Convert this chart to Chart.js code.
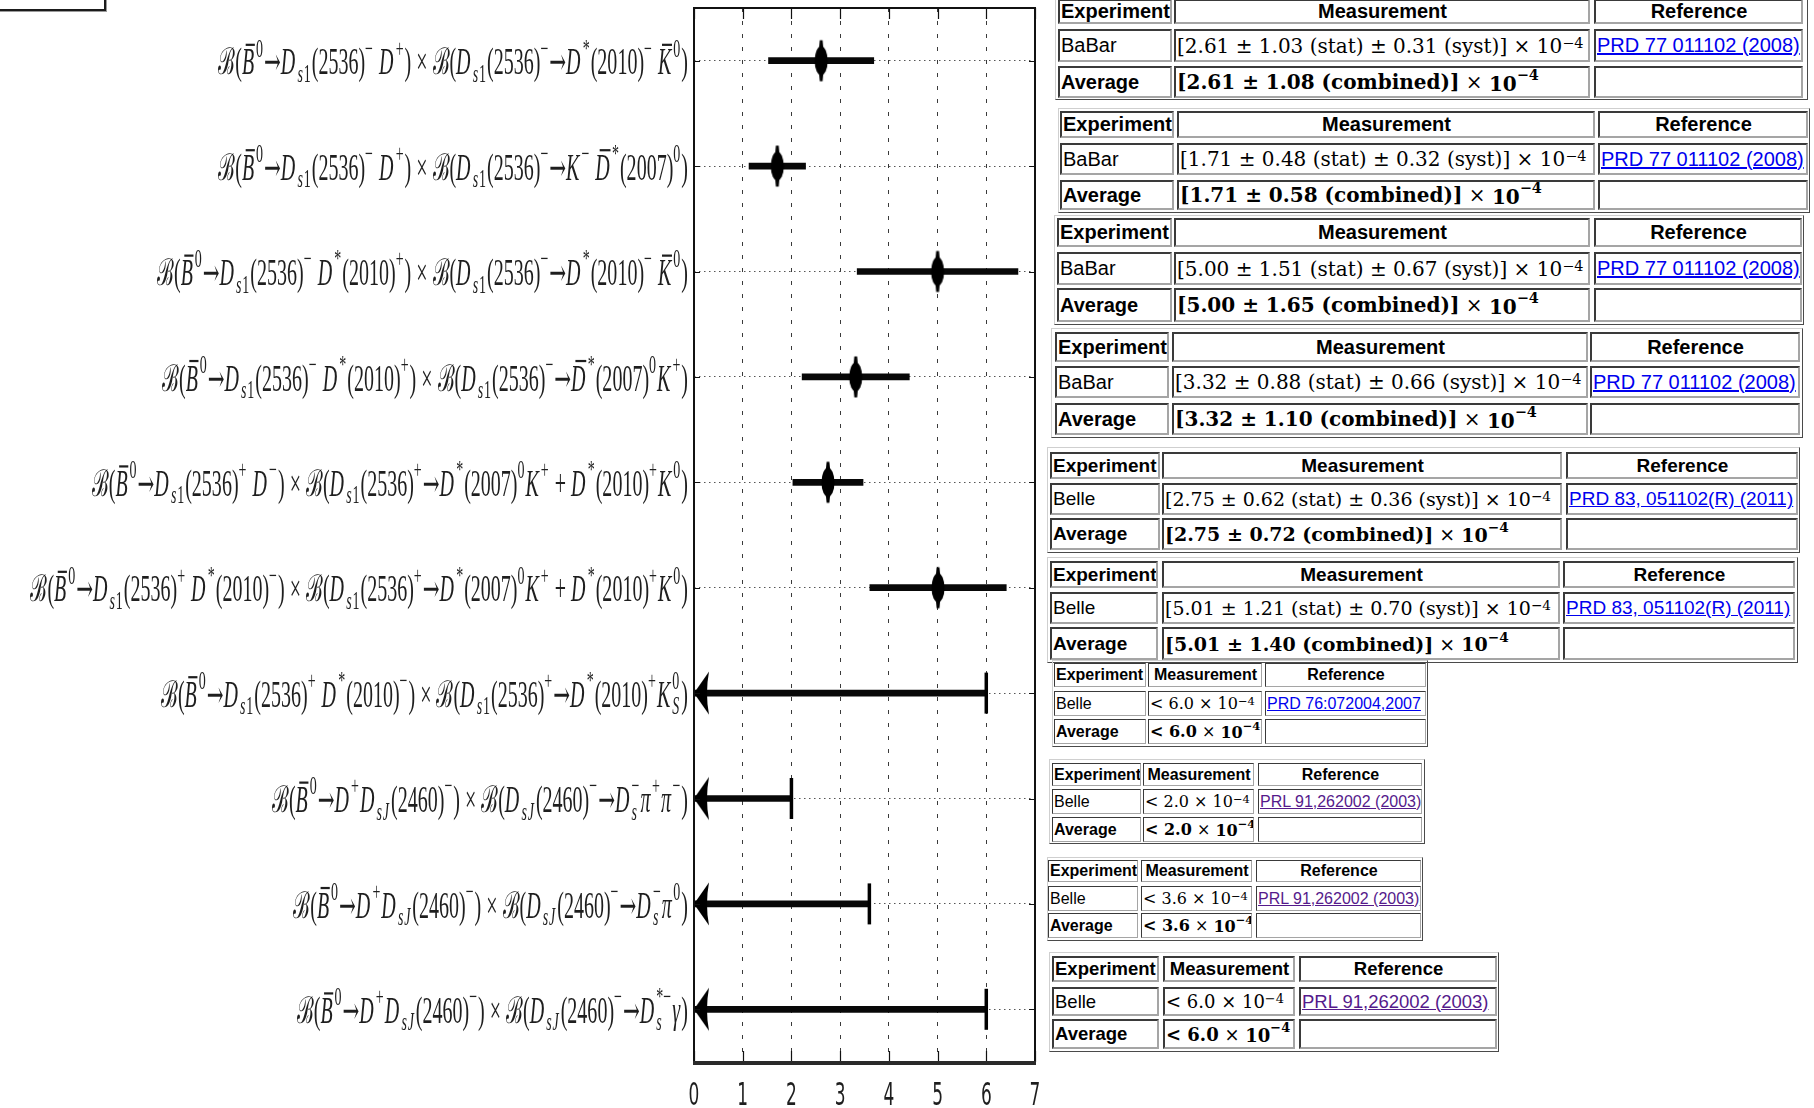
<!DOCTYPE html>
<html>
<head>
<meta charset="utf-8">
<title>B0bar to Ds1(2536) and DsJ(2460) branching fractions</title>
<script src="https://cdn.jsdelivr.net/npm/chart.js@4.4.1/dist/chart.umd.min.js"></script>
<style>
  html, body { margin: 0; padding: 0; background: #fff; }
  body { position: relative; width: 1814px; height: 1108px; overflow: hidden; }
  #plot { position: absolute; left: 0; top: 0; }
  .corner { position: absolute; left: -4px; top: -4px; width: 106px; height: 11px; border: 2px solid #1b1b1b; box-shadow: 1px 1px 0 #9a9a9a; }
  .tbox { position: absolute; box-sizing: border-box; border: 1px solid; border-color: #cfcfcf #4a4a4a #4a4a4a #cfcfcf; }
  .cell { position: absolute; box-sizing: border-box; border-style: solid; border-color: #3a3a3a #a5a5a5 #a5a5a5 #3a3a3a;
          display: flex; align-items: center; white-space: nowrap; overflow: hidden; padding-left: 1px;
          font-family: "Liberation Sans", Arial, sans-serif; color: #000; }
  .head { font-weight: bold; justify-content: center; }
  .head.first { justify-content: flex-start; }
  .avg { font-weight: bold; }
  .math { font-family: "DejaVu Serif", serif; }
  .math sup { font-size: 0.72em; position: relative; top: -0.2em; }
  .math .n { font-weight: normal; }
  a { color: #0000ee; text-decoration: underline; }
  a.seen { color: #551a8b; }
</style>
</head>
<body>
<div class="corner"></div>
<canvas id="plot" width="1046" height="1108"></canvas>
<script>
// Decay modes, written in a small markup: ^ superscript, _ subscript, ! bar over next letter
const decays = [
  "ℬ(!B^0→D_{s1}(2536)^{−} D^{+}) × ℬ(D_{s1}(2536)^{−}→D^{*}(2010)^{−} !K^0)",
  "ℬ(!B^0→D_{s1}(2536)^{−} D^{+}) × ℬ(D_{s1}(2536)^{−}→K^{−} !D^{*}(2007)^0)",
  "ℬ(!B^0→D_{s1}(2536)^{−} D^{*}(2010)^{+}) × ℬ(D_{s1}(2536)^{−}→D^{*}(2010)^{−} !K^0)",
  "ℬ(!B^0→D_{s1}(2536)^{−} D^{*}(2010)^{+}) × ℬ(D_{s1}(2536)^{−}→!D^{*}(2007)^0K^{+})",
  "ℬ(!B^0→D_{s1}(2536)^{+} D^{−}) × ℬ(D_{s1}(2536)^{+}→D^{*}(2007)^0K^{+} + D^{*}(2010)^{+}K^0)",
  "ℬ(!B^0→D_{s1}(2536)^{+} D^{*}(2010)^{−}) × ℬ(D_{s1}(2536)^{+}→D^{*}(2007)^0K^{+} + D^{*}(2010)^{+}K^0)",
  "ℬ(!B^0→D_{s1}(2536)^{+} D^{*}(2010)^{−}) × ℬ(D_{s1}(2536)^{+}→D^{*}(2010)^{+}K^0_S)",
  "ℬ(!B^0→D^{+}D_{sJ}(2460)^{−}) × ℬ(D_{sJ}(2460)^{−}→D_s^{−}π^{+}π^{−})",
  "ℬ(!B^0→D^{+}D_{sJ}(2460)^{−}) × ℬ(D_{sJ}(2460)^{−}→D_s^{−}π^0)",
  "ℬ(!B^0→D^{+}D_{sJ}(2460)^{−}) × ℬ(D_{sJ}(2460)^{−}→D_s^{*−}γ)"
];

// Branching fractions in units of 1e-4
const central    = [2.61, 1.71, 5.00, 3.32, 2.75, 5.01, null, null, null, null];
const statErr    = [1.03, 0.48, 1.51, 0.88, 0.62, 1.21, null, null, null, null];
const systErr    = [0.31, 0.32, 0.67, 0.66, 0.36, 0.70, null, null, null, null];
const combErr    = [1.08, 0.58, 1.65, 1.10, 0.72, 1.40, null, null, null, null];
const upperLimit = [null, null, null, null, null, null, 6.0, 2.0, 3.6, 6.0];

const experiment = ["BaBar", "BaBar", "BaBar", "BaBar", "Belle", "Belle", "Belle", "Belle", "Belle", "Belle"];
const reference  = ["PRD 77 011102 (2008)", "PRD 77 011102 (2008)", "PRD 77 011102 (2008)", "PRD 77 011102 (2008)",
                    "PRD 83, 051102(R) (2011)", "PRD 83, 051102(R) (2011)", "PRD 76:072004,2007",
                    "PRL 91,262002 (2003)", "PRL 91,262002 (2003)", "PRL 91,262002 (2003)"];
const visited    = [false, false, false, false, false, false, false, true, true, true];

const xTicks = [0, 1, 2, 3, 4, 5, 6, 7];

// ---------- marker images ----------
function lensMarker() {
  const c = document.createElement('canvas');
  c.width = 16; c.height = 44;
  const g = c.getContext('2d');
  g.fillStyle = '#000';
  g.beginPath();
  g.ellipse(8, 22, 6.5, 14.5, 0, 0, Math.PI * 2);
  g.fill();
  g.beginPath();
  g.moveTo(5.6, 12); g.lineTo(6.6, 1.5); g.lineTo(9.4, 1.5); g.lineTo(10.4, 12);
  g.moveTo(5.6, 32); g.lineTo(6.6, 42.5); g.lineTo(9.4, 42.5); g.lineTo(10.4, 32);
  g.fill();
  return c;
}

// arrow head with its tip in the middle of the image, so the point sits on the tip
function arrowHead() {
  const c = document.createElement('canvas');
  c.width = 32; c.height = 46;
  const g = c.getContext('2d');
  g.fillStyle = '#000';
  g.beginPath();
  g.moveTo(16, 23);
  g.lineTo(31, 1.5);
  g.quadraticCurveTo(27, 23, 31, 44.5);
  g.closePath();
  g.fill();
  return c;
}

// ---------- math label rendering ----------
function parseMath(src) {
  const toks = [];
  let i = 0, bar = false;
  while (i < src.length) {
    const c = src[i];
    if (c === '!') { bar = true; i++; continue; }
    if (c === '^' || c === '_') {
      let grp;
      if (src[i + 1] === '{') {
        const j = src.indexOf('}', i + 2);
        grp = src.slice(i + 2, j); i = j + 1;
      } else {
        grp = src[i + 1]; i += 2;
      }
      toks.push({ t: grp, k: c === '^' ? 'sup' : 'sub' });
      continue;
    }
    toks.push({ t: c, k: 'n', bar: bar });
    bar = false; i++;
  }
  return toks;
}

const SCRIPT = 0.7, SUP = -0.48, SUB = 0.2;
const ITALIC_WIDEN = 1.15, SCRIPT_SPACE = 0.05;

function isLetter(ch) { return /[A-Za-zπγ]/.test(ch); }

function glyphFont(ch, size) {
  if (ch === '→') return size + 'px "DejaVu Serif", serif';
  const it = isLetter(ch) ? 'italic ' : '';
  return it + size + 'px "Liberation Serif", "DejaVu Serif", serif';
}

function layoutMath(ctx, src, F) {
  const glyphs = [];
  let x = 0, prev = null;
  for (const tk of parseMath(src)) {
    const scr = tk.k !== 'n';
    const size = scr ? F * SCRIPT : F;
    const dy = tk.k === 'sup' ? SUP * F : (tk.k === 'sub' ? SUB * F : 0);
    const stacked = scr && prev && prev.k !== 'n' && prev.k !== tk.k;
    const x0 = stacked ? prev.x0 : x;
    let cx = x0;
    for (const ch of tk.t) {
      const font = glyphFont(ch, size);
      ctx.font = font;
      const w = ctx.measureText(ch).width;
      glyphs.push({ ch, font, x: cx, dy, w, bar: tk.bar });
      cx += isLetter(ch) ? w * ITALIC_WIDEN : w;
    }
    if (scr) cx += SCRIPT_SPACE * F;
    x = stacked ? Math.max(cx, prev.x1) : cx;
    prev = { k: tk.k, x0, x1: cx };
  }
  return { glyphs, width: x };
}

function drawMath(ctx, src, xRight, yMid, F, sx, sy) {
  const lay = layoutMath(ctx, src, F);
  ctx.save();
  ctx.translate(xRight - lay.width * sx, yMid + 0.37 * F * sy);
  ctx.scale(sx, sy);
  ctx.fillStyle = '#1e1e1e';
  ctx.strokeStyle = '#1e1e1e';
  ctx.textAlign = 'left';
  ctx.textBaseline = 'alphabetic';
  for (const g of lay.glyphs) {
    ctx.font = g.font;
    ctx.fillText(g.ch, g.x, g.dy);
    if (g.bar) {
      ctx.lineWidth = 0.06 * F;
      ctx.beginPath();
      ctx.moveTo(g.x + 0.3 * g.w, -0.8 * F);
      ctx.lineTo(g.x + 1.05 * g.w, -0.8 * F);
      ctx.stroke();
    }
  }
  ctx.restore();
}

// frame, inner ticks, axis numbers and the decay-mode labels
const framePlugin = {
  id: 'framePlugin',
  afterDatasetsDraw(chart) {
    const { ctx, chartArea: a, scales: { x, y } } = chart;
    ctx.save();
    ctx.strokeStyle = '#111';
    ctx.lineWidth = 1.2;
    ctx.beginPath();
    xTicks.forEach(v => {
      const px = Math.round(x.getPixelForValue(v)) + 0.5;
      ctx.moveTo(px, a.bottom); ctx.lineTo(px, a.bottom - 11);
      ctx.moveTo(px, a.top); ctx.lineTo(px, a.top + 11);
    });
    decays.forEach((d, i) => {
      const py = Math.round(y.getPixelForValue(i)) + 0.5;
      ctx.moveTo(a.left, py); ctx.lineTo(a.left + 6, py);
      ctx.moveTo(a.right, py); ctx.lineTo(a.right - 6, py);
    });
    ctx.stroke();
    ctx.lineWidth = 2;
    ctx.strokeStyle = '#111';
    ctx.strokeRect(a.left, a.top, a.right - a.left, a.bottom - a.top);
    ctx.lineWidth = 4;
    ctx.strokeStyle = '#2a2a2a';
    ctx.beginPath();
    ctx.moveTo(a.left - 1, a.bottom + 1); ctx.lineTo(a.right + 1, a.bottom + 1);
    ctx.stroke();
    ctx.restore();
  },
  afterDraw(chart) {
    const { ctx, chartArea: a, scales: { x, y } } = chart;
    // axis numbers, tall and narrow
    xTicks.forEach(v => {
      ctx.save();
      ctx.translate(x.getPixelForValue(v), a.bottom + 43);
      ctx.scale(0.85, 1.58);
      ctx.font = '20px "DejaVu Sans", sans-serif';
      ctx.fillStyle = '#1e1e1e';
      ctx.textAlign = 'center';
      ctx.textBaseline = 'alphabetic';
      ctx.fillText(String(v), 0, 0);
      ctx.restore();
    });
    decays.forEach((d, i) => {
      drawMath(ctx, d, a.left - 6, y.getPixelForValue(i), 26, 0.77, 1.42);
    });
  }
};

// ---------- chart ----------
const measured = decays.map((d, i) => central[i] != null ? { x: central[i], y: d } : null).filter(Boolean);
const limits = decays.map((d, i) => upperLimit[i] != null ? { x: upperLimit[i], y: d } : null).filter(Boolean);
const limitStarts = decays.map((d, i) => upperLimit[i] != null ? { x: 0, y: d } : null).filter(Boolean);
const spans = decays.map((d, i) => central[i] != null
  ? [central[i] - combErr[i], central[i] + combErr[i]]
  : [0, upperLimit[i]]);

new Chart(document.getElementById('plot'), {
  type: 'bar',
  data: {
    labels: decays,
    datasets: [
      {
        type: 'scatter',
        data: measured,
        pointStyle: lensMarker(),
        pointRadius: 5
      },
      {
        type: 'scatter',
        data: limitStarts,
        pointStyle: arrowHead(),
        pointRadius: 5
      },
      {
        type: 'scatter',
        data: limits,
        pointStyle: 'line',
        rotation: 90,
        pointRadius: 20.5,
        borderWidth: 3.5,
        borderColor: '#000',
        backgroundColor: '#000'
      },
      {
        data: spans,
        backgroundColor: '#080808',
        borderWidth: 0,
        borderSkipped: false,
        barThickness: 6
      }
    ]
  },
  options: {
    indexAxis: 'y',
    responsive: false,
    animation: false,
    devicePixelRatio: 1,
    layout: { autoPadding: false, padding: { left: 694, top: 8, right: 11, bottom: 46 } },
    plugins: { legend: { display: false }, tooltip: { enabled: false } },
    scales: {
      x: {
        type: 'linear',
        min: 0,
        max: 7,
        ticks: { stepSize: 1, display: false },
        grid: { color: '#3a3a3a', lineWidth: 1, drawTicks: false },
        border: { display: false, dash: [4, 9] },
        afterFit: s => { s.height = 0; }
      },
      y: {
        type: 'category',
        offset: true,
        ticks: { display: false },
        grid: { offset: false, color: '#555', lineWidth: 1, drawTicks: false },
        border: { display: false, dash: [1.5, 3.5] },
        afterFit: s => { s.width = 0; }
      }
    }
  },
  plugins: [framePlugin]
});

// ---------- result tables ----------
const tableLayout = [
  { box: [1055, -3, 1808, 100],  cols: [[1058, 1172], [1174, 1590], [1594, 1803]], rows: [[-1, 24], [29, 62], [66, 98]],     sans: 20,   serif: 20, bw: 2 },
  { box: [1058, 108, 1810, 213], cols: [[1060, 1174], [1177, 1595], [1598, 1808]], rows: [[111, 138], [143, 175], [180, 210]], sans: 20,   serif: 20, bw: 2 },
  { box: [1054, 215, 1804, 325], cols: [[1057, 1172], [1174, 1590], [1594, 1802]], rows: [[218, 247], [252, 285], [288, 322]], sans: 20,   serif: 20, bw: 2 },
  { box: [1051, 328, 1803, 438], cols: [[1055, 1169], [1172, 1588], [1590, 1800]], rows: [[332, 362], [366, 398], [403, 435]], sans: 20,   serif: 20, bw: 2 },
  { box: [1047, 447, 1800, 553], cols: [[1050, 1160], [1162, 1562], [1566, 1798]], rows: [[452, 479], [483, 515], [518, 550]], sans: 19,   serif: 19, bw: 2 },
  { box: [1047, 557, 1798, 663], cols: [[1050, 1158], [1162, 1560], [1563, 1795]], rows: [[561, 588], [592, 624], [627, 660]], sans: 19,   serif: 19, bw: 2 },
  { box: [1052, 660, 1428, 747], cols: [[1054, 1146], [1148, 1262], [1265, 1426]], rows: [[663, 687], [691, 716], [719, 744]], sans: 16,   serif: 16, bw: 1 },
  { box: [1049, 759, 1425, 844], cols: [[1052, 1141], [1143, 1254], [1258, 1422]], rows: [[763, 786], [789, 814], [817, 842]], sans: 16,   serif: 16, bw: 1 },
  { box: [1047, 857, 1423, 941], cols: [[1048, 1138], [1141, 1252], [1256, 1421]], rows: [[860, 882], [886, 911], [913, 938]], sans: 16,   serif: 16, bw: 1 },
  { box: [1049, 952, 1499, 1052], cols: [[1052, 1159], [1163, 1295], [1299, 1497]], rows: [[956, 982], [987, 1016], [1019, 1049]], sans: 18.5, serif: 18, bw: 2 }
];

function measText(i) {
  if (central[i] != null) {
    return '[' + central[i].toFixed(2) + ' ± ' + statErr[i].toFixed(2) + ' (stat) ± ' +
      systErr[i].toFixed(2) + ' (syst)] × 10<sup>−4</sup>';
  }
  return '&lt; ' + upperLimit[i].toFixed(1) + ' × 10<sup>−4</sup>';
}

function avgText(i) {
  if (central[i] != null) {
    return '<b>[' + central[i].toFixed(2) + ' ± ' + combErr[i].toFixed(2) +
      ' (combined)]</b>&nbsp;<span class="n">×</span>&nbsp;<b>10<sup>−4</sup></b>';
  }
  return '<b>&lt; ' + upperLimit[i].toFixed(1) + '</b>&nbsp;<span class="n">×</span>&nbsp;<b>10<sup>−4</sup></b>';
}

tableLayout.forEach((tb, i) => {
  const box = document.createElement('div');
  box.className = 'tbox';
  Object.assign(box.style, {
    left: tb.box[0] + 'px', top: tb.box[1] + 'px',
    width: (tb.box[2] - tb.box[0]) + 'px', height: (tb.box[3] - tb.box[1]) + 'px'
  });
  document.body.appendChild(box);

  const link = '<a class="' + (visited[i] ? 'seen' : '') + '">' + reference[i] + '</a>';
  const rows = [
    [{ html: 'Experiment', cls: 'head first' }, { html: 'Measurement', cls: 'head' }, { html: 'Reference', cls: 'head' }],
    [{ html: experiment[i] }, { html: measText(i), cls: 'math' }, { html: link }],
    [{ html: 'Average', cls: 'avg' }, { html: avgText(i), cls: 'math' }, { html: '' }]
  ];
  rows.forEach((row, r) => row.forEach((c, k) => {
    const d = document.createElement('div');
    d.className = 'cell ' + (c.cls || '');
    Object.assign(d.style, {
      left: tb.cols[k][0] + 'px', top: tb.rows[r][0] + 'px',
      width: (tb.cols[k][1] - tb.cols[k][0]) + 'px', height: (tb.rows[r][1] - tb.rows[r][0]) + 'px',
      borderWidth: tb.bw + 'px',
      fontSize: ((c.cls || '').includes('math') ? tb.serif : tb.sans) + 'px'
    });
    d.innerHTML = c.html;
    document.body.appendChild(d);
  }));
});
</script>
</body>
</html>
